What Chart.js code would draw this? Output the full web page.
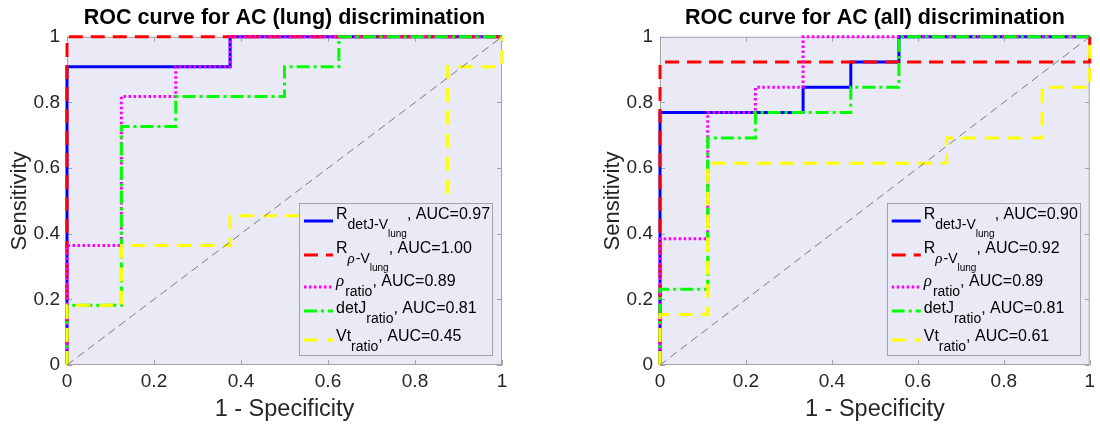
<!DOCTYPE html>
<html>
<head>
<meta charset="utf-8">
<script src="https://cdn.jsdelivr.net/npm/chart.js@4.4.1/dist/chart.umd.min.js"></script>
<style>
  body { margin: 0; background: #fff; }
  .box { position: absolute; top: 0; width: 550px; height: 426px; }
</style>
</head>
<body>
<div class="box" style="left:0"><canvas id="lungChart"></canvas></div>
<div class="box" style="left:550px"><canvas id="allChart"></canvas></div>
<script>
// ROC curve for AC (lung): 1 - specificity (x) and sensitivity (y)
const lungDetJX = [0, 0, 0.375, 0.375, 1];
const lungDetJY = [0, 0.909, 0.909, 1, 1];
const lungRhoX = [0, 0, 1];
const lungRhoY = [0, 1, 1];
const lungRhoRatioX = [0, 0, 0.125, 0.125, 0.25, 0.25, 0.375, 0.375, 1];
const lungRhoRatioY = [0, 0.364, 0.364, 0.818, 0.818, 0.909, 0.909, 1, 1];
const lungDetJRatioX = [0, 0, 0.125, 0.125, 0.25, 0.25, 0.5, 0.5, 0.625, 0.625, 1];
const lungDetJRatioY = [0, 0.182, 0.182, 0.727, 0.727, 0.818, 0.818, 0.909, 0.909, 1, 1];
const lungVtRatioX = [0, 0, 0.125, 0.125, 0.375, 0.375, 0.875, 0.875, 1, 1];
const lungVtRatioY = [0, 0.182, 0.182, 0.364, 0.364, 0.455, 0.455, 0.909, 0.909, 1];
const lungAuc = ["0.97", "1.00", "0.89", "0.81", "0.45"];

// ROC curve for AC (all)
const allDetJX = [0, 0, 0.333, 0.333, 0.444, 0.444, 0.556, 0.556, 1];
const allDetJY = [0, 0.769, 0.769, 0.846, 0.846, 0.923, 0.923, 1, 1];
const allRhoX = [0, 0, 1, 1];
const allRhoY = [0, 0.923, 0.923, 1];
const allRhoRatioX = [0, 0, 0.111, 0.111, 0.222, 0.222, 0.333, 0.333, 1];
const allRhoRatioY = [0, 0.385, 0.385, 0.769, 0.769, 0.846, 0.846, 1, 1];
const allDetJRatioX = [0, 0, 0.111, 0.111, 0.222, 0.222, 0.444, 0.444, 0.556, 0.556, 1];
const allDetJRatioY = [0, 0.231, 0.231, 0.692, 0.692, 0.769, 0.769, 0.846, 0.846, 1, 1];
const allVtRatioX = [0, 0, 0.111, 0.111, 0.667, 0.667, 0.889, 0.889, 1, 1];
const allVtRatioY = [0, 0.154, 0.154, 0.615, 0.615, 0.692, 0.692, 0.846, 0.846, 1];
const allAuc = ["0.90", "0.92", "0.89", "0.81", "0.61"];

const chanceX = [0, 1];
const chanceY = [0, 1];
const tickValues = [0, 0.2, 0.4, 0.6, 0.8, 1];

// legend labels, with subscript levels (1 = sub, 2 = sub of sub)
const seriesNames = [
  [["R", 0], ["detJ-V", 1], ["lung", 2]],
  [["R", 0], ["ρ", 1], ["-V", 1], ["lung", 2]],
  [["ρ", 0], ["ratio", 1]],
  [["detJ", 0], ["ratio", 1]],
  [["Vt", 0], ["ratio", 1]]
];

const lineStyles = [
  { color: "#0000ff", dash: [] },
  { color: "#ff0000", dash: [14, 8] },
  { color: "#ff00ff", dash: [2.5, 2.5] },
  { color: "#00ff00", dash: [13, 4, 3, 4] },
  { color: "#ffff00", dash: [14, 9] }
];

function points(xs, ys) {
  return xs.map((x, i) => ({ x: x, y: ys[i] }));
}

const SANS = '"Liberation Sans", Arial, Helvetica, sans-serif';

const matlabAxes = {
  id: "matlabAxes",
  beforeDraw(chart) {
    const { ctx, chartArea: a } = chart;
    ctx.save();
    ctx.fillStyle = "#eaeaf6";
    ctx.fillRect(a.left, a.top, a.right - a.left, a.bottom - a.top);
    ctx.restore();
  },
  beforeDatasetsDraw(chart) {
    const { ctx, chartArea: a, scales } = chart;
    ctx.save();
    ctx.strokeStyle = "#a3a3a8";
    ctx.lineWidth = 1;
    ctx.strokeRect(a.left + 0.5, a.top + 0.5, a.right - a.left - 1, a.bottom - a.top - 1);
    ctx.beginPath();
    tickValues.forEach(v => {
      const px = Math.round(scales.x.getPixelForValue(v)) + 0.5;
      ctx.moveTo(px, a.bottom); ctx.lineTo(px, a.bottom - 5);
      ctx.moveTo(px, a.top); ctx.lineTo(px, a.top + 5);
      const py = Math.round(scales.y.getPixelForValue(v)) + 0.5;
      ctx.moveTo(a.left, py); ctx.lineTo(a.left + 5, py);
      ctx.moveTo(a.right, py); ctx.lineTo(a.right - 5, py);
    });
    ctx.stroke();
    ctx.restore();
  },
  afterDatasetsDraw(chart, args, opts) {
    const { ctx, chartArea: a } = chart;
    const w = 193, h = 152;
    const left = a.right - 10 - w, top = a.bottom - 10 - h;
    ctx.save();
    ctx.fillStyle = "#eaeaf6";
    ctx.fillRect(left, top, w, h);
    ctx.strokeStyle = "#a3a3a8";
    ctx.lineWidth = 1;
    ctx.strokeRect(Math.round(left) + 0.5, Math.round(top) + 0.5, w, h);

    const textMid = [12, 46, 79, 106, 134];
    const lineMid = [18, 52, 84, 108, 137];
    const sizes = [16, 14, 10];
    const shifts = [0, 10, 19];
    seriesNames.forEach((parts, i) => {
      const st = lineStyles[i];
      ctx.strokeStyle = st.color;
      ctx.lineWidth = 3;
      ctx.setLineDash(st.dash);
      ctx.beginPath();
      ctx.moveTo(left + 5, top + lineMid[i]);
      ctx.lineTo(left + 34, top + lineMid[i]);
      ctx.stroke();
      ctx.setLineDash([]);

      let x = left + 37;
      const y0 = top + textMid[i];
      ctx.fillStyle = "#000";
      ctx.textBaseline = "middle";
      ctx.textAlign = "left";
      const all = parts.concat([[", AUC=" + opts.auc[i], 0]]);
      all.forEach(([t, lvl]) => {
        const greek = t === "ρ";
        ctx.font = greek
          ? "italic " + (sizes[lvl] + 1) + 'px "Liberation Serif", serif'
          : sizes[lvl] + "px " + SANS;
        ctx.fillText(t, x, y0 + shifts[lvl]);
        x += ctx.measureText(t).width + (greek ? 1 : 0);
      });
    });
    ctx.restore();
  }
};

function makeChart(id, title, xs, ys, auc, padLeft, padRight) {
  const datasets = xs.map((xv, i) => ({
    data: points(xv, ys[i]),
    borderColor: lineStyles[i].color,
    borderDash: lineStyles[i].dash,
    borderWidth: 3,
    pointRadius: 0,
    tension: 0,
    clip: false,
    order: 5 - i
  }));
  datasets.push({
    data: points(chanceX, chanceY),
    borderColor: "#7a7a7a",
    borderDash: [8, 5],
    borderWidth: 1,
    pointRadius: 0,
    clip: false,
    order: 0
  });

  const tickLabel = v => String(Math.round(v * 10) / 10);

  return new Chart(document.getElementById(id), {
    type: "line",
    data: { datasets: datasets },
    options: {
      responsive: true,
      maintainAspectRatio: false,
      animation: false,
      devicePixelRatio: 1,
      layout: { padding: { left: padLeft, right: padRight, top: 0, bottom: 0 } },
      plugins: {
        legend: { display: false },
        tooltip: { enabled: false },
        title: {
          display: true,
          text: title,
          fullSize: false,
          color: "#000",
          font: { family: SANS, size: 21.5, weight: "bold" },
          padding: { top: 5, bottom: 6 }
        },
        matlabAxes: { auc: auc }
      },
      scales: {
        x: {
          type: "linear",
          min: 0, max: 1,
          grid: { display: false, drawTicks: false },
          border: { display: false },
          ticks: { stepSize: 0.2, padding: 5, color: "#262626",
                   font: { family: SANS, size: 19 }, callback: tickLabel },
          title: { display: true, text: "1 - Specificity", color: "#262626",
                   font: { family: SANS, size: 23.5 }, padding: { top: 0, bottom: 2 } },
          afterFit(scale) { scale.height = 61; }
        },
        y: {
          min: 0, max: 1,
          grid: { display: false, drawTicks: false },
          border: { display: false },
          ticks: { stepSize: 0.2, padding: 7, color: "#262626",
                   font: { family: SANS, size: 19 }, callback: tickLabel },
          title: { display: true, text: "Sensitivity", color: "#262626",
                   font: { family: SANS, size: 22 }, padding: { top: 7, bottom: 0 } },
          afterFit(scale) { scale.width = 67; }
        }
      }
    },
    plugins: [matlabAxes]
  });
}

makeChart("lungChart", "ROC curve for AC (lung) discrimination",
  [lungDetJX, lungRhoX, lungRhoRatioX, lungDetJRatioX, lungVtRatioX],
  [lungDetJY, lungRhoY, lungRhoRatioY, lungDetJRatioY, lungVtRatioY],
  lungAuc, 0, 48);

makeChart("allChart", "ROC curve for AC (all) discrimination",
  [allDetJX, allRhoX, allRhoRatioX, allDetJRatioX, allVtRatioX],
  [allDetJY, allRhoY, allRhoRatioY, allDetJRatioY, allVtRatioY],
  allAuc, 43, 6);
</script>
</body>
</html>
